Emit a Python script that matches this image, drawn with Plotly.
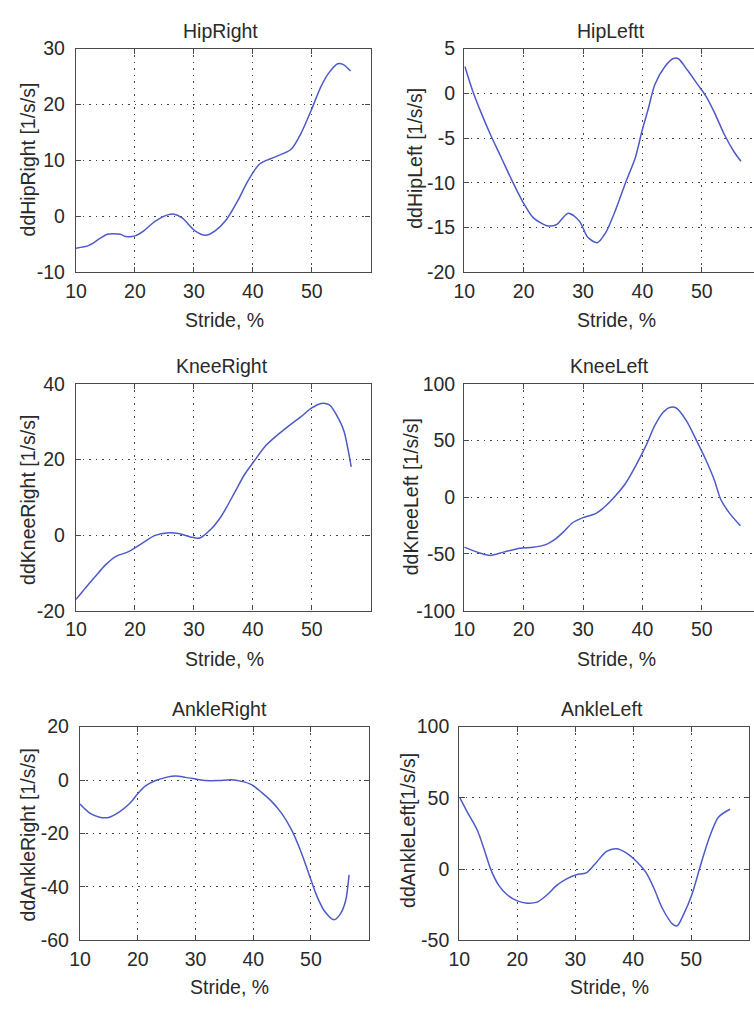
import plotly.graph_objects as go

W, H = 754, 1012

# ---------------- data ----------------
hip_right_x = [10, 12.2, 14, 15.3, 17.5, 18.4, 20, 21.5, 23.4, 25.7, 26.5, 28, 30.2, 32, 33.6, 35.5,
               37.5, 39.2, 41.2, 43.7, 46.5, 48.2, 50, 51.6, 53, 54.4, 55.3, 56.6]
hip_right_y = [-5.7, -5.2, -4.0, -3.2, -3.2, -3.6, -3.5, -2.6, -0.9, 0.3, 0.4, -0.3, -2.6, -3.4, -2.6, -0.6,
               2.9, 6.4, 9.4, 10.6, 12.0, 14.9, 19.2, 23.3, 25.8, 27.3, 27.2, 26.0]

hip_left_x = [10.1, 11.4, 12.8, 14.4, 16.1, 18, 20, 21.6, 23.9, 25.5, 27.5, 29.4, 30.8, 32.4, 33.8, 35.5,
              37.1, 38.8, 39.9, 41, 42.1, 43.8, 45.2, 46, 47.7, 49.3, 50.7, 52.1, 53.8, 55.4, 56.6]
hip_left_y = [3.0, 0.3, -2.1, -4.6, -7.0, -9.7, -12.3, -13.9, -14.8, -14.7, -13.4, -14.3, -16.1, -16.7, -15.6, -13.0,
              -10.1, -7.2, -4.3, -1.7, 1.0, 3.0, 3.9, 3.9, 2.5, 1.0, -0.3, -2.1, -4.6, -6.5, -7.6]

knee_right_x = [10, 11.6, 13.3, 15, 16.7, 18.9, 21.2, 23.4, 25.7, 27.4, 29.4, 31, 33, 34.7, 36.9, 38.6,
                40.3, 42, 43.7, 45.9, 48.2, 50, 51.6, 53, 54.7, 55.5, 56.7]
knee_right_y = [-17.0, -14.0, -10.9, -7.9, -5.7, -4.4, -2.2, -0.1, 0.6, 0.4, -0.5, -0.8, 1.7, 5.1, 11.2, 16.0,
                19.7, 23.3, 25.8, 28.6, 31.3, 33.6, 34.8, 34.4, 30.3, 27.3, 18.0]

knee_left_x = [10, 12.2, 14.4, 16.6, 19.4, 21.6, 23.6, 25.5, 26.9, 28.3, 30, 32.2, 33.8, 35.5, 37.2, 38.8,
               40.5, 42.1, 43.5, 44.6, 45.7, 47.4, 49.1, 50.7, 52.1, 53.2, 54.6, 56.5]
knee_left_y = [-44, -48.4, -51.3, -48.4, -44.9, -44.1, -42.0, -36.2, -29.6, -22.3, -18.0, -14.2, -7.8, 1.4, 12.5, 27.0,
               44.3, 63.2, 74.8, 79.1, 78.6, 67.5, 50.1, 32.8, 15.4, -2.0, -13.6, -25.2]

ankle_right_x = [10, 11.7, 13.4, 15.1, 16.9, 18.6, 20, 21.4, 23.1, 24.9, 26.6, 28.3, 30, 31.7, 34, 36.3,
                 38, 39.7, 41.4, 43.1, 44.9, 46.6, 48.3, 49.7, 50.9, 52.3, 54, 55.1, 56, 56.6]
ankle_right_y = [-9.0, -12.4, -13.9, -13.9, -11.8, -8.8, -5.1, -2.1, -0.2, 1.0, 1.5, 1.0, 0.4, -0.2, -0.2, 0.1,
                 -0.5, -1.7, -4.5, -7.8, -12.4, -18.5, -27.0, -35.5, -42.8, -48.9, -52.3, -50.1, -45.2, -35.5]

ankle_left_x = [10.1, 11.4, 13.1, 14.3, 15.4, 16.8, 18.3, 20, 21.7, 23.4, 25.1, 26.8, 28.5, 30.2, 31.9, 33.6,
                35.4, 37.1, 38.8, 40.5, 42.2, 43.6, 45, 46.8, 47.6, 48.7, 50.1, 51.6, 53, 54.7, 56.7]
ankle_left_y = [50, 39.8, 27.3, 13.6, 0, -11.4, -18.2, -22.3, -23.9, -23.2, -18.2, -11.4, -6.8, -3.9, -2.7, 4.5,
                12.5, 14.3, 11.4, 5.7, -2.3, -13.6, -27.3, -38.6, -39.8, -31.8, -18.2, 2.3, 20.5, 36.4, 42.0]

titles = ["HipRight", "HipLeftt", "KneeRight", "KneeLeft", "AnkleRight", "AnkleLeft"]
ytitles = ["ddHipRight [1/s/s]", "ddHipLeft [1/s/s]", "ddKneeRight [1/s/s]",
           "ddKneeLeft [1/s/s]", "ddAnkleRight [1/s/s]", "ddAnkleLeft[1/s/s]"]
xtitle = "Stride, %"
x_ticks = [10, 20, 30, 40, 50]
y_ticks = [
    [-10, 0, 10, 20, 30],
    [-20, -15, -10, -5, 0, 5],
    [-20, 0, 20, 40],
    [-100, -50, 0, 50, 100],
    [-60, -40, -20, 0, 20],
    [-50, 0, 50, 100],
]

series_x = [hip_right_x, hip_left_x, knee_right_x, knee_left_x, ankle_right_x, ankle_left_x]
series_y = [hip_right_y, hip_left_y, knee_right_y, knee_left_y, ankle_right_y, ankle_left_y]

# ---------------- layout (pixel boxes) ----------------
# (left, right, top, bottom, x_max, clipped_right)
boxes = [
    (66, 365, 38.5, 267, 60, False),
    (460, 754, 38.5, 267, 10 + 294 / 60.25 * 10, True),
    (66, 365, 381, 613, 60, False),
    (460, 754, 381, 613, 10 + 294 / 60.25 * 10, True),
    (70, 363, 731.5, 950, 60, False),
    (455, 749, 731.5, 950, 60, False),
]
title_pos = [(213, 20), (609, 20), (214, 363), (607, 363), (212, 713), (600, 713)]
xt_pos = [(217, 316), (614, 316), (217, 662), (614, 662), (222, 998), (607, 998)]
yt_pos = [(17, 152), (410, 151), (17, 500), (406, 497), (17, 842), (403, 838)]
y_standoff = [6, 4, 6, 4, 6, 5]

FONT = "Liberation Sans, Arial, sans-serif"
FS = 19.5
TXT = "#2a2a2a"
LINE_BLUE = "rgb(78,90,200)"

def px(x):
    return x / W

def py(y):
    return 1 - y / H

fig = go.Figure()
annotations = []
for i in range(6):
    l, r, t, b, xmax, clipped = boxes[i]
    n = "" if i == 0 else str(i + 1)
    fig.add_trace(go.Scatter(
        x=series_x[i], y=series_y[i], mode="lines",
        line=dict(color=LINE_BLUE, width=1.5, shape="spline", smoothing=0.8),
        xaxis="x" + n, yaxis="y" + n, showlegend=False, hoverinfo="skip"))
    axis_common = dict(
        showline=True, linecolor="#4a4a4a", linewidth=1.4,
        ticks="inside", ticklen=5, tickcolor="#4a4a4a", tickwidth=1,
        showgrid=True, gridcolor="#444444", gridwidth=1.2, griddash="1.5px,5px",
        zeroline=False, tickfont=dict(family=FONT, size=FS, color=TXT),
    )
    fig.layout["xaxis" + n] = dict(
        axis_common, domain=[px(l), px(r)], range=[10, xmax], anchor="y" + n,
        tickmode="array", tickvals=x_ticks, ticktext=[str(v) for v in x_ticks],
        mirror="allticks", ticklabelstandoff=1)
    yt = y_ticks[i]
    fig.layout["yaxis" + n] = dict(
        axis_common, domain=[py(b), py(t)], range=[yt[0], yt[-1]], anchor="x" + n,
        tickmode="array", tickvals=yt, ticktext=[str(v) for v in yt],
        mirror=(False if clipped else "allticks"), ticklabelstandoff=y_standoff[i])
    tx, ty = title_pos[i]
    annotations.append(dict(text=titles[i], x=px(tx), y=py(ty), xref="paper", yref="paper",
                            showarrow=False, xanchor="center", yanchor="middle",
                            font=dict(family=FONT, size=FS, color=TXT)))
    ax, ay = xt_pos[i]
    annotations.append(dict(text=xtitle, x=px(ax), y=py(ay), xref="paper", yref="paper",
                            showarrow=False, xanchor="center", yanchor="middle",
                            font=dict(family=FONT, size=FS, color=TXT)))
    yx, yy = yt_pos[i]
    annotations.append(dict(text=ytitles[i], x=px(yx), y=py(yy), xref="paper", yref="paper",
                            showarrow=False, xanchor="center", yanchor="middle", textangle=-90,
                            font=dict(family=FONT, size=FS, color=TXT)))

fig.update_layout(
    width=W, height=H, margin=dict(l=0, r=0, t=0, b=0),
    paper_bgcolor="white", plot_bgcolor="white",
    annotations=annotations, showlegend=False,
)

fig.write_html(
    "out.html",
    config={"displayModeBar": False},
    post_script="document.body.style.margin='0';document.body.style.overflow='hidden';",
)
